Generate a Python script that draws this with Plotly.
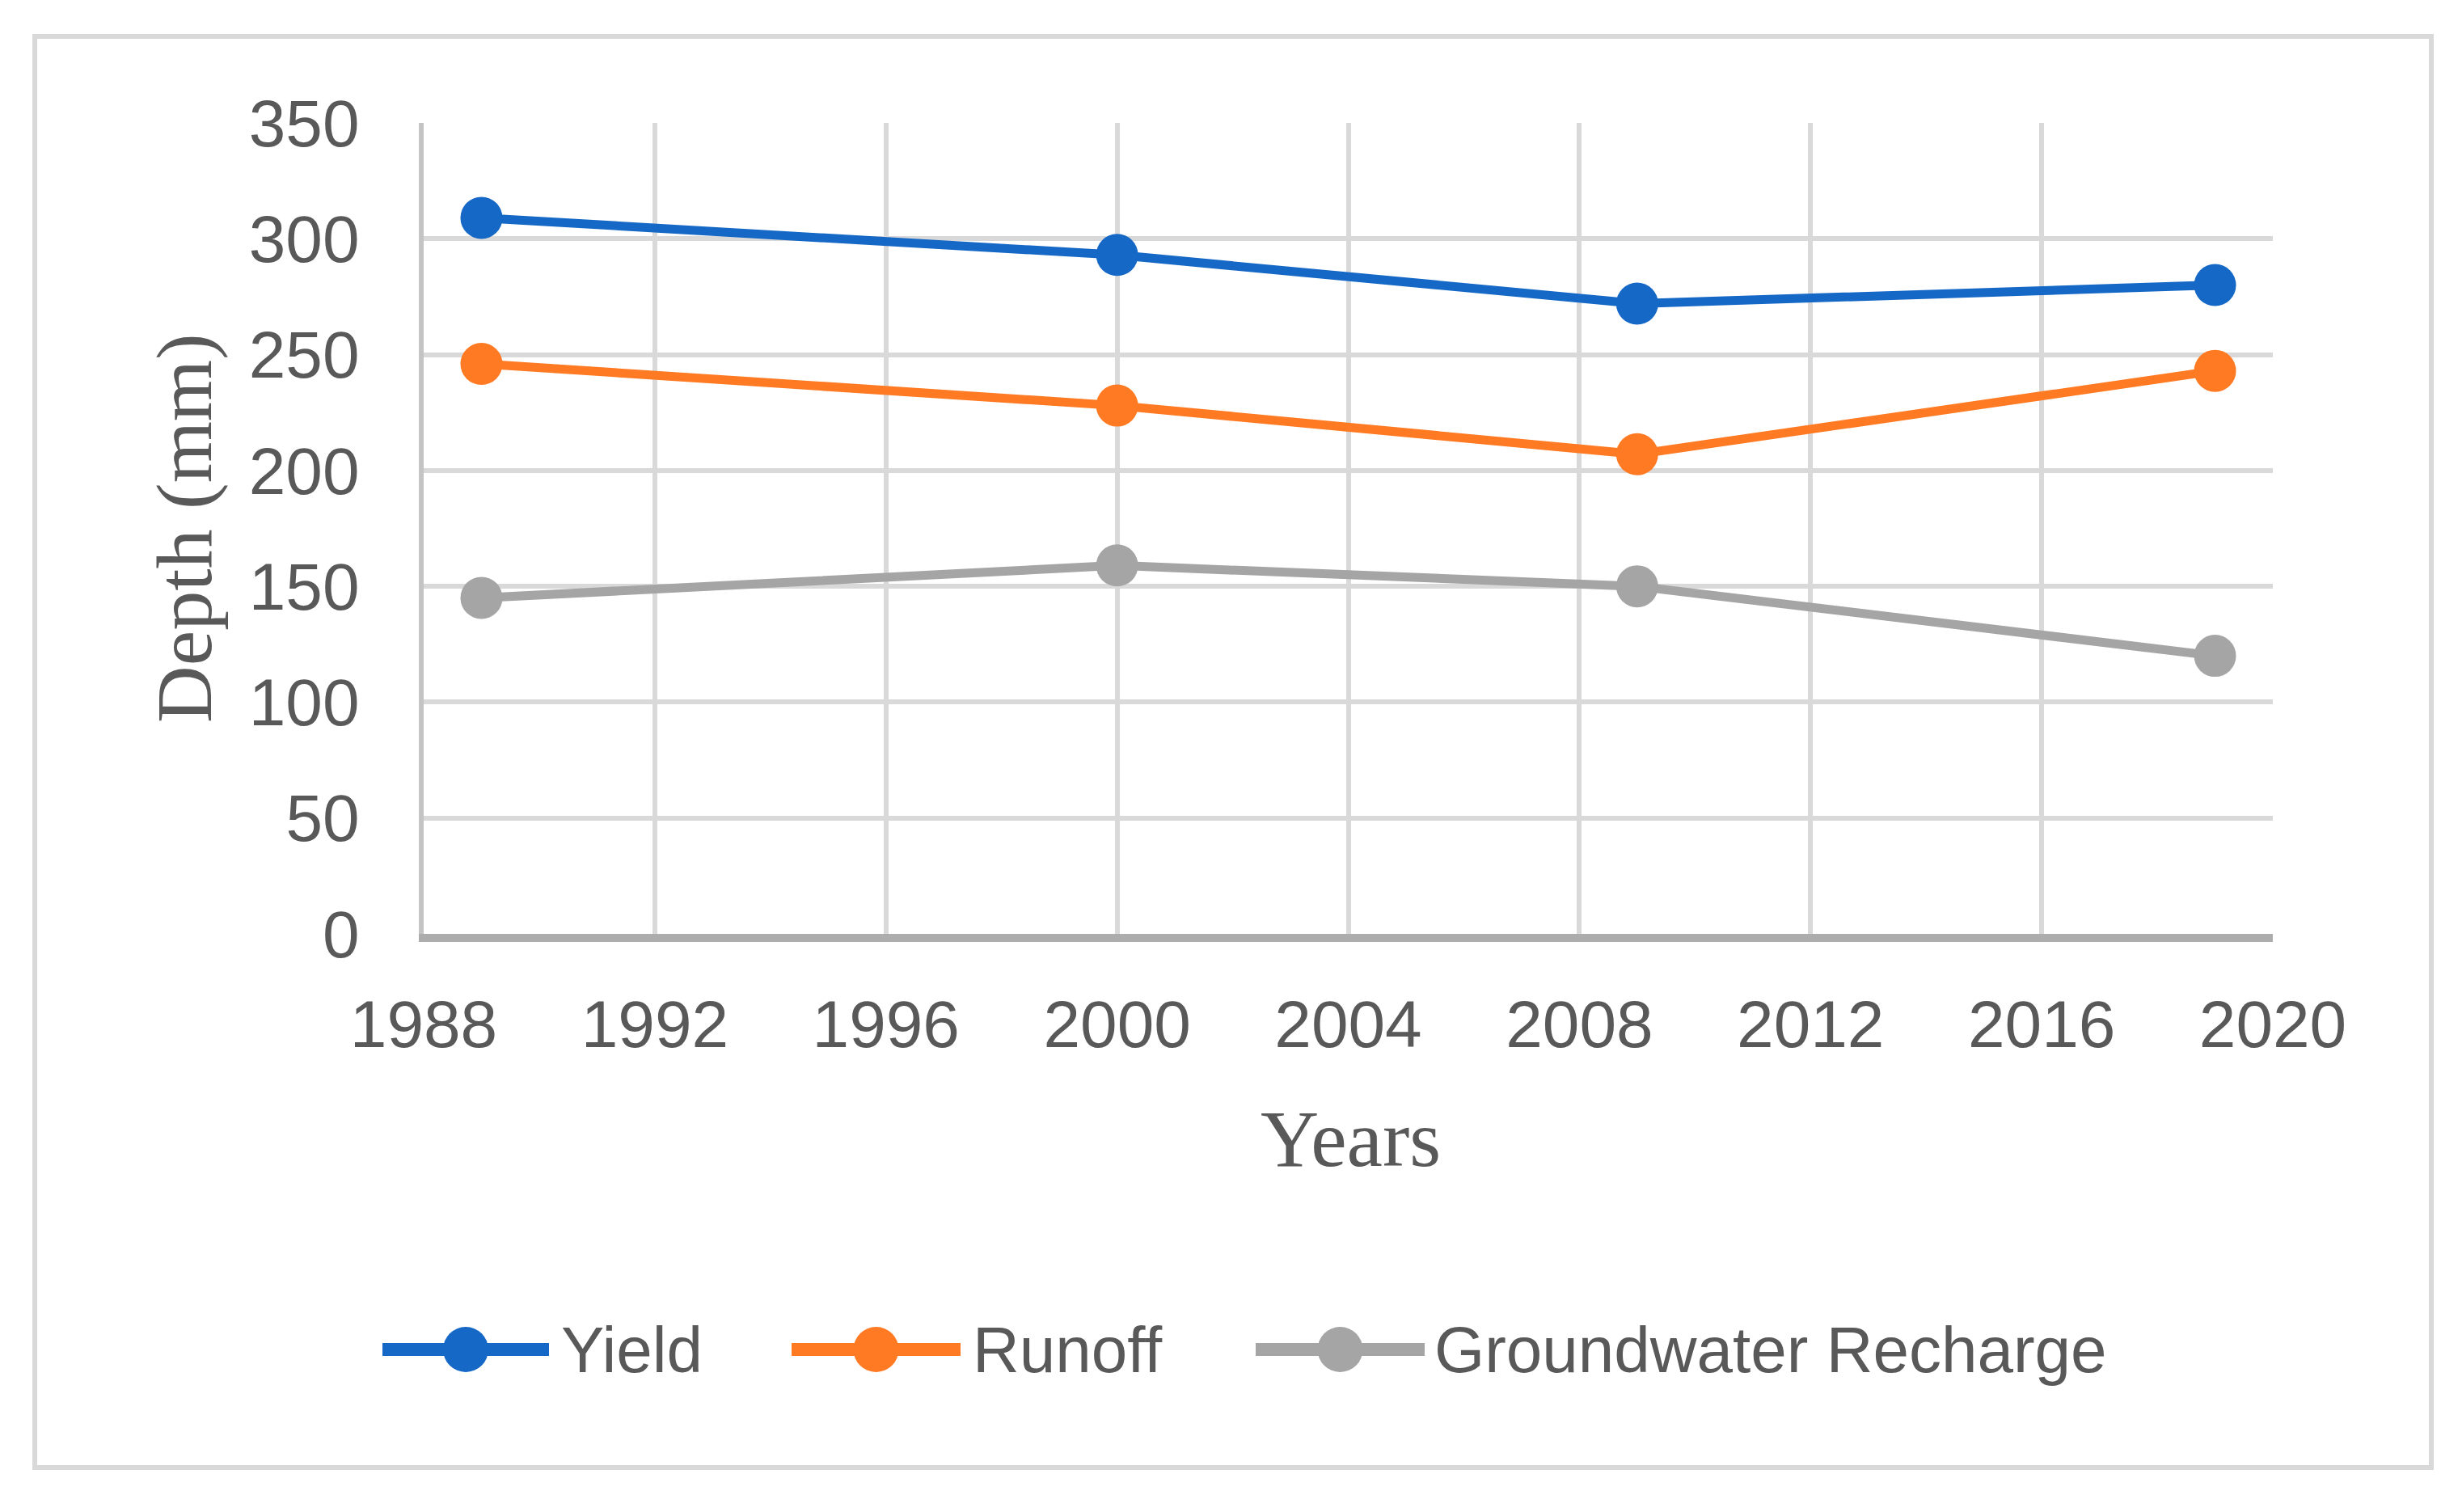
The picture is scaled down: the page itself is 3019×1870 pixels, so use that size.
import plotly.graph_objects as go

years = [1989, 2000, 2009, 2019]
yield_mm = [309, 293, 272, 280]
runoff_mm = [246, 228, 207, 243]
recharge_mm = [145, 159, 150, 120]

series_names = ["Yield", "Runoff", "Groundwater Recharge"]
series_colors = ["#1668C6", "#FF7A22", "#A5A5A5"]
x_ticks = [1988, 1992, 1996, 2000, 2004, 2008, 2012, 2016, 2020]
y_ticks = [0, 50, 100, 150, 200, 250, 300, 350]

OFF = 8  # default page body margin
W, H = 3019 - 2 * OFF, 1870 - 2 * OFF
# plot area in page pixels
PL, PR, PT, PB = 524 - OFF, 2811 - OFF, 152 - OFF, 1155 - OFF


def px(x):
    return (x - OFF - PL) / (PR - PL)


def py(y):
    return (PB - (y - OFF)) / (PB - PT)


fig = go.Figure()
for name, vals, col in zip(series_names, [yield_mm, runoff_mm, recharge_mm], series_colors):
    fig.add_trace(go.Scatter(
        x=years, y=vals, name=name, mode="lines+markers",
        line=dict(color=col, width=11),
        marker=dict(color=col, size=52),
        showlegend=False,
    ))

TXT = "#595959"
fig.update_layout(
    width=W, height=H,
    margin=dict(l=PL, r=W - PR, t=PT, b=H - PB),
    paper_bgcolor="white", plot_bgcolor="white",
    xaxis=dict(
        range=[1988, 2020], tickvals=x_ticks, ticktext=[str(t) for t in x_ticks],
        showgrid=True, gridcolor="#D9D9D9", gridwidth=6,
        showline=True, linecolor="#ADADAD", linewidth=10,
        zeroline=False, ticks="", ticklabelstandoff=32,
        tickfont=dict(family="Liberation Sans", size=82, color=TXT),
    ),
    yaxis=dict(
        range=[0, 350], tickvals=y_ticks,
        showgrid=True, gridcolor="#D9D9D9", gridwidth=6,
        showline=True, linecolor="#C4C4C4", linewidth=6,
        zeroline=False, ticks="", ticklabelstandoff=57,
        tickfont=dict(family="Liberation Sans", size=82, color=TXT),
    ),
    font=dict(family="Liberation Sans", color=TXT),
)

shapes = []
shapes.append(dict(type="rect", xref="paper", yref="paper",
                   x0=px(43), x1=px(3007), y0=py(1815), y1=py(45),
                   line=dict(color="#D9D9D9", width=6), fillcolor="rgba(0,0,0,0)", layer="below"))

annotations = [
    dict(text="Years", xref="paper", yref="paper", x=px(1670), y=py(1408),
         showarrow=False, xanchor="center", yanchor="middle",
         font=dict(family="Liberation Serif", size=100, color=TXT)),
    dict(text="Depth (mm)", xref="paper", yref="paper", x=px(228), y=py(653),
         showarrow=False, xanchor="center", yanchor="middle", textangle=-90,
         font=dict(family="Liberation Serif", size=98, color=TXT)),
]

leg_y = 1669
leg_items = [(473, 679, 692), (979, 1188, 1201), (1553, 1762, 1772)]
for (x0, x1, tx), name, col in zip(leg_items, series_names, series_colors):
    shapes.append(dict(type="line", xref="paper", yref="paper",
                       x0=px(x0), x1=px(x1), y0=py(leg_y), y1=py(leg_y),
                       line=dict(color=col, width=16)))
    cx = (x0 + x1) / 2
    r = 28
    shapes.append(dict(type="circle", xref="paper", yref="paper",
                       x0=px(cx - r), x1=px(cx + r), y0=py(leg_y + r), y1=py(leg_y - r),
                       line=dict(color=col, width=0), fillcolor=col))
    annotations.append(dict(text=name, xref="paper", yref="paper", x=px(tx), y=py(leg_y),
                            showarrow=False, xanchor="left", yanchor="middle",
                            font=dict(family="Liberation Sans", size=80, color=TXT)))

fig.update_layout(shapes=shapes, annotations=annotations)
fig.write_html("out.html")
